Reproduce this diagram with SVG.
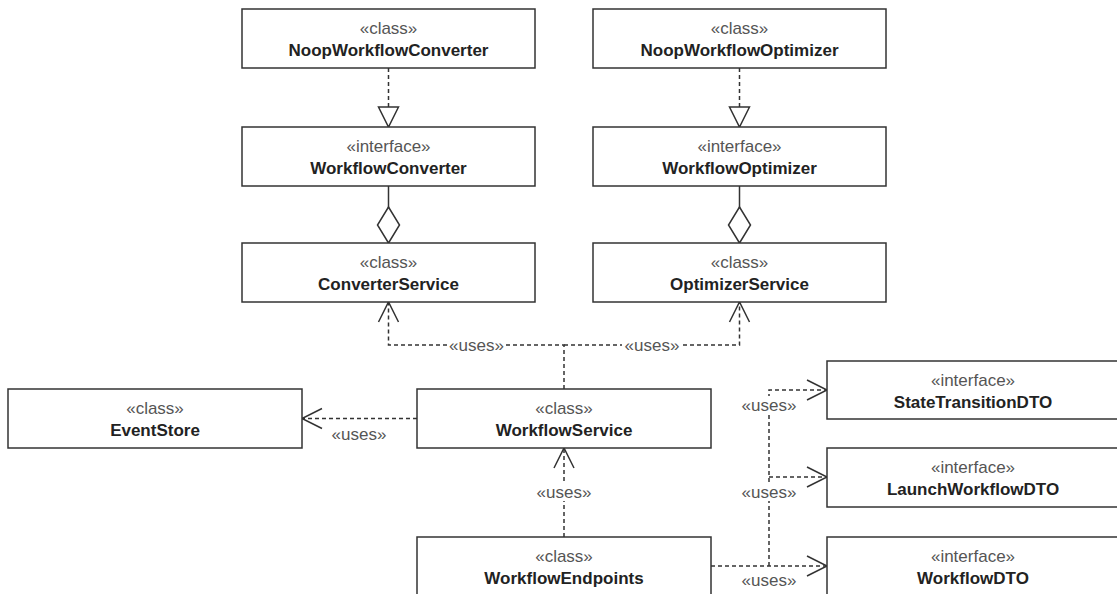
<svg xmlns="http://www.w3.org/2000/svg" width="1117" height="594" viewBox="0 0 1117 594">
<style>
.box{fill:#fff;stroke:#333;stroke-width:1.5}
.st{font-family:"Liberation Sans",Arial,sans-serif;font-size:17px;fill:#555;text-anchor:middle}
.nm{font-family:"Liberation Sans",Arial,sans-serif;font-size:17px;font-weight:bold;fill:#222;text-anchor:middle}
.ln{fill:none;stroke:#333;stroke-width:1.5}
.dash{stroke-dasharray:4 3}
.lbl{font-family:"Liberation Sans",Arial,sans-serif;font-size:17px;fill:#555;text-anchor:middle}
.lbg{fill:#fff}
</style>
<defs>
<marker id="open" markerUnits="userSpaceOnUse" markerWidth="26" markerHeight="26" viewBox="-23 -13 26 26" refX="0" refY="0" orient="auto"><path d="M-20,-10 L0,0 L-20,10" fill="none" stroke="#333" stroke-width="1.5"/></marker>
<marker id="tri" markerUnits="userSpaceOnUse" markerWidth="26" markerHeight="26" viewBox="-23 -13 26 26" refX="0" refY="0" orient="auto"><path d="M-20,-10 L0,0 L-20,10 Z" fill="#fff" stroke="#333" stroke-width="1.5"/></marker>
<marker id="dia" markerUnits="userSpaceOnUse" markerWidth="42" markerHeight="28" viewBox="-39 -14 42 28" refX="0" refY="0" orient="auto"><path d="M0,0 L-18,-11 L-36,0 L-18,11 Z" fill="#fff" stroke="#333" stroke-width="1.5"/></marker>
</defs>
<rect width="1117" height="594" fill="#fff"/>
<g id="connectors">
<path class="ln dash" d="M388.5,68 V127" marker-end="url(#tri)"/>
<path class="ln dash" d="M739.5,68 V127" marker-end="url(#tri)"/>
<path class="ln" d="M388.5,186 V243" marker-end="url(#dia)"/>
<path class="ln" d="M739.5,186 V243" marker-end="url(#dia)"/>
<path class="ln dash" d="M564,389 V345 H388.5 V302" marker-end="url(#open)"/>
<path class="ln dash" d="M564,345 H739.5 V302" marker-end="url(#open)"/>
<path class="ln dash" d="M417,418.5 H302" marker-end="url(#open)"/>
<path class="ln dash" d="M564,537 V448" marker-end="url(#open)"/>
<path class="ln dash" d="M711,566 H827" marker-end="url(#open)"/>
<path class="ln dash" d="M769,566 V390 H827" marker-end="url(#open)"/>
<path class="ln dash" d="M769,477 H827" marker-end="url(#open)"/>
<g id="labels">
<rect class="lbg" x="447" y="336" width="59" height="18"/><text class="lbl" x="476.5" y="351">«uses»</text>
<rect class="lbg" x="622" y="336" width="59" height="18"/><text class="lbl" x="652" y="351">«uses»</text>
<rect class="lbg" x="330" y="425" width="59" height="18"/><text class="lbl" x="359" y="440">«uses»</text>
<rect class="lbg" x="535" y="483" width="59" height="18"/><text class="lbl" x="564" y="498">«uses»</text>
<rect class="lbg" x="740" y="396" width="59" height="18"/><text class="lbl" x="769" y="411">«uses»</text>
<rect class="lbg" x="740" y="483" width="59" height="18"/><text class="lbl" x="769" y="498">«uses»</text>
<rect class="lbg" x="740" y="571" width="59" height="18"/><text class="lbl" x="769" y="586">«uses»</text>
</g>
</g>
<g id="NoopWorkflowConverter"><rect class="box" x="242" y="9" width="293" height="59"/><text class="st" x="388.5" y="34">«class»</text><text class="nm" x="388.5" y="56">NoopWorkflowConverter</text></g>
<g id="NoopWorkflowOptimizer"><rect class="box" x="593" y="9" width="293" height="59"/><text class="st" x="739.5" y="34">«class»</text><text class="nm" x="739.5" y="56">NoopWorkflowOptimizer</text></g>
<g id="WorkflowConverter"><rect class="box" x="242" y="127" width="293" height="59"/><text class="st" x="388.5" y="152">«interface»</text><text class="nm" x="388.5" y="174">WorkflowConverter</text></g>
<g id="WorkflowOptimizer"><rect class="box" x="593" y="127" width="293" height="59"/><text class="st" x="739.5" y="152">«interface»</text><text class="nm" x="739.5" y="174">WorkflowOptimizer</text></g>
<g id="ConverterService"><rect class="box" x="242" y="243" width="293" height="59"/><text class="st" x="388.5" y="268">«class»</text><text class="nm" x="388.5" y="290">ConverterService</text></g>
<g id="OptimizerService"><rect class="box" x="593" y="243" width="293" height="59"/><text class="st" x="739.5" y="268">«class»</text><text class="nm" x="739.5" y="290">OptimizerService</text></g>
<g id="EventStore"><rect class="box" x="8" y="389" width="294" height="59"/><text class="st" x="155" y="414">«class»</text><text class="nm" x="155" y="436">EventStore</text></g>
<g id="WorkflowService"><rect class="box" x="417" y="389" width="294" height="59"/><text class="st" x="564" y="414">«class»</text><text class="nm" x="564" y="436">WorkflowService</text></g>
<g id="WorkflowEndpoints"><rect class="box" x="417" y="537" width="294" height="70"/><text class="st" x="564" y="562">«class»</text><text class="nm" x="564" y="584">WorkflowEndpoints</text></g>
<g id="StateTransitionDTO"><rect class="box" x="827" y="361" width="300" height="58"/><text class="st" x="973" y="386">«interface»</text><text class="nm" x="973" y="408">StateTransitionDTO</text></g>
<g id="LaunchWorkflowDTO"><rect class="box" x="827" y="448" width="300" height="59"/><text class="st" x="973" y="473">«interface»</text><text class="nm" x="973" y="495">LaunchWorkflowDTO</text></g>
<g id="WorkflowDTO"><rect class="box" x="827" y="537" width="300" height="70"/><text class="st" x="973" y="562">«interface»</text><text class="nm" x="973" y="584">WorkflowDTO</text></g>
</svg>
